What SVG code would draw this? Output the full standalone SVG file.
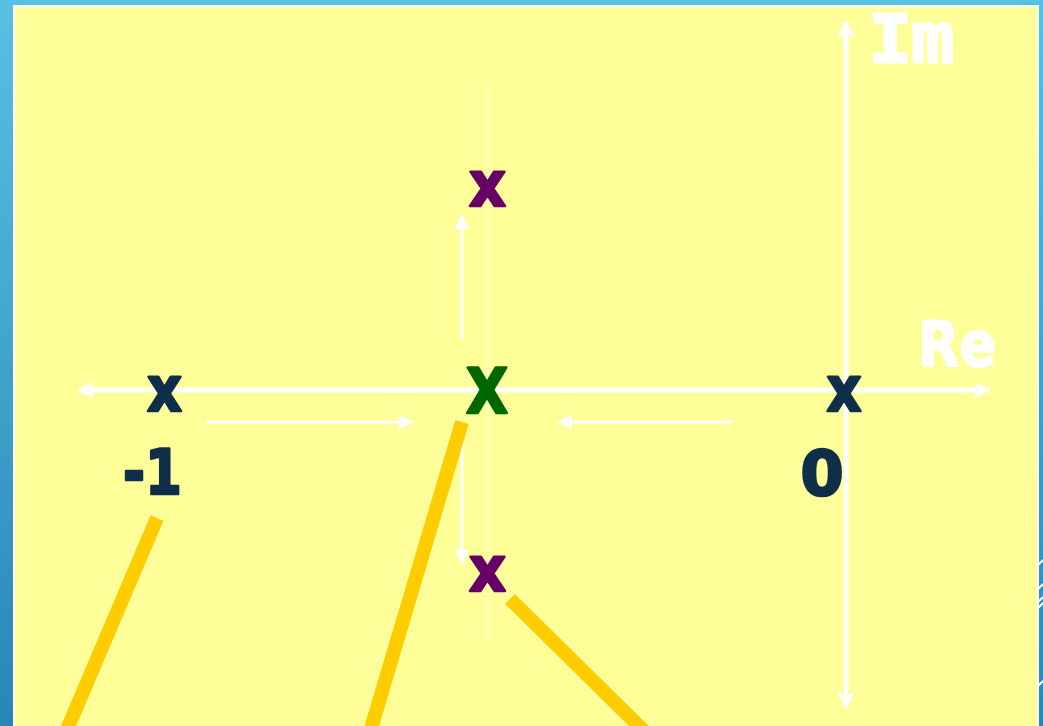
<svg xmlns="http://www.w3.org/2000/svg" width="1043" height="726" viewBox="0 0 1043 726">
  <defs>
    <linearGradient id="bg" x1="0" y1="0" x2="0" y2="1">
      <stop offset="0" stop-color="#57c1e2"/>
      <stop offset="1" stop-color="#2a85b5"/>
    </linearGradient>
    <marker id="bigHead" viewBox="0 0 16 16" refX="14" refY="8" markerWidth="17" markerHeight="17" markerUnits="userSpaceOnUse" orient="auto-start-reverse">
      <path d="M0,0 L16,8 L0,16 L3,8 Z" fill="#ffffff"/>
    </marker>
    <marker id="smallHead" viewBox="0 0 16 16" refX="15" refY="8" markerWidth="15" markerHeight="16" markerUnits="userSpaceOnUse" orient="auto">
      <path d="M0,0 L16,8 L0,16 Z" fill="#ffffff"/>
    </marker>
    <style>
      .axis { stroke: #ffffff; stroke-width: 5; fill: none; }
      .move { stroke: #ffffff; stroke-width: 3; fill: none; }
      .locus { stroke: #ffcc00; stroke-width: 14; fill: none; }
      .mark { font-family: "DejaVu Sans", Verdana, sans-serif; font-weight: bold; font-size: 62px; text-anchor: middle; stroke-width: 2.5; stroke-linejoin: round; }
      .navy { fill: #0f2e4a; stroke: #0f2e4a; }
      .purple { fill: #660066; stroke: #660066; }
      .green { fill: #006600; stroke: #006600; }
      .axlabel { fill: #ffffff; stroke: #ffffff; font-weight: bold; stroke-linejoin: round; }
    </style>
  </defs>

  <rect x="0" y="0" width="1043" height="726" fill="url(#bg)"/>
  <g stroke="#ffffff" stroke-width="2">
    <line x1="1037" y1="566" x2="1043" y2="560"/>
    <line x1="1037" y1="590" x2="1043" y2="584"/>
    <line x1="1037" y1="603" x2="1043" y2="597"/>
    <line x1="1037" y1="609" x2="1043" y2="603"/>
    <line x1="1037" y1="687" x2="1043" y2="681"/>
  </g>
  <rect x="14" y="6" width="1024" height="730" fill="#ffff99" stroke="#ffffff" stroke-width="2"/>

  <line x1="488" y1="85" x2="488" y2="640" stroke="#ffffff" stroke-width="1.5" stroke-dasharray="2,2"/>

  <g id="connectors">
    <line class="axis" x1="79" y1="390" x2="989" y2="390" marker-start="url(#bigHead)" marker-end="url(#bigHead)"/>
    <line class="axis" x1="846" y1="22" x2="846" y2="707" marker-start="url(#bigHead)" marker-end="url(#bigHead)"/>
    <line class="move" x1="462" y1="340" x2="462" y2="215" marker-end="url(#smallHead)"/>
    <line class="move" x1="462" y1="430" x2="462" y2="564" marker-end="url(#smallHead)"/>
    <line class="move" x1="206" y1="422" x2="413" y2="422" marker-end="url(#smallHead)"/>
    <line class="move" x1="733" y1="422" x2="558" y2="422" marker-end="url(#smallHead)"/>
    <line class="locus" x1="157" y1="518" x2="66" y2="732"/>
    <line class="locus" x1="462" y1="422" x2="370" y2="732"/>
    <line class="locus" x1="510" y1="599" x2="645" y2="732"/>
  </g>

  <g id="pole-minus1">
    <text class="mark navy" x="164.5" y="411" textLength="35" lengthAdjust="spacingAndGlyphs">x</text>
    <text class="mark navy" x="123" y="494" style="text-anchor:start" textLength="59" lengthAdjust="spacingAndGlyphs">-1</text>
  </g>
  <g id="pole-zero">
    <text class="mark navy" x="822" y="495">0</text>
  </g>
  <g id="pole-origin">
    <text class="mark navy" x="844" y="411" textLength="35" lengthAdjust="spacingAndGlyphs">x</text>
  </g>
  <g id="breakaway">
    <text class="mark green" x="487" y="413" textLength="42" lengthAdjust="spacingAndGlyphs">X</text>
  </g>
  <g id="pole-upper">
    <text class="mark purple" x="487.5" y="206" textLength="37" lengthAdjust="spacingAndGlyphs">x</text>
  </g>
  <g id="pole-lower">
    <text class="mark purple" x="487.5" y="591" textLength="37" lengthAdjust="spacingAndGlyphs">x</text>
  </g>
  <g id="label-im">
    <text class="axlabel" x="869" y="62" font-family="Liberation Mono, Courier New, monospace" font-size="72" stroke-width="3" textLength="85" lengthAdjust="spacingAndGlyphs">Im</text>
  </g>
  <g id="label-re">
    <text class="axlabel" x="918" y="366" font-family="DejaVu Sans, Verdana, sans-serif" font-size="62" stroke-width="2" textLength="78" lengthAdjust="spacingAndGlyphs">Re</text>
  </g>
</svg>
